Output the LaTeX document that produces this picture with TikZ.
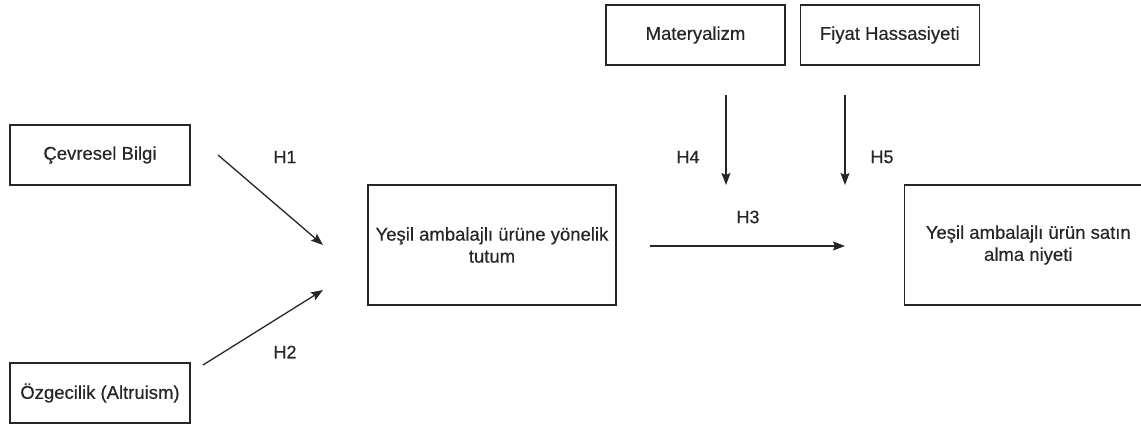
\documentclass[tikz,border=0pt]{standalone}
\usepackage{fontspec}
\setmainfont{Liberation Sans}[FakeBold=0.5, AutoFakeBold=0.5]
\usetikzlibrary{arrows.meta, positioning}
\tikzset{
    box/.style={rectangle, draw=black!85, line width=1.3pt, align=center, inner sep=0pt, font=\fontsize{18.5}{22}\selectfont\bfseries, text=black!85},
    arrow/.style={-{Stealth[length=12pt, width=9pt, inset=2pt]}, line width=1.3pt, black!85},
    hyp/.style={font=\fontsize{18}{22}\selectfont\bfseries, text=black!85}
}

\begin{document}
\begin{tikzpicture}[x=1pt, y=-1pt, node distance=14pt and 14pt]
            \useasboundingbox (0,0) rectangle (1141,425);
            \clip (0,0) rectangle (1141,425);

            % Constructs
            \node (cevre) [box, minimum width=180pt, minimum height=60pt] at (100,155) {Çevresel Bilgi};
            \node (ozgec) [box, minimum width=180pt, minimum height=60pt] at (100,393) {Özgecilik (Altruism)};
            \node (tutum) [box, minimum width=248pt, minimum height=120pt] at (492,245) {Yeşil ambalajlı ürüne yönelik\\tutum};
            \node (niyet) [box, minimum width=248pt, minimum height=120pt, right=287pt of tutum] {Yeşil ambalajlı ürün satın\\alma niyeti};

            % Moderators
            \node (mater) [box, minimum width=179pt, minimum height=60pt] at (695.5,35) {Materyalizm};
            \node (fiyat) [box, minimum width=179pt, minimum height=60pt, right=of mater] {Fiyat Hassasiyeti};

            % Arrow ends
            \coordinate (h1a) at (218,155);
            \coordinate (h1b) at (323,245);
            \coordinate (h2a) at (203,365);
            \coordinate (h2b) at (323,290);
            \coordinate (h3a) at (650,246);
            \coordinate (h3b) at (845,246);
            \coordinate (h4a) at (726,95);
            \coordinate (h4b) at (726,185);
            \coordinate (h5a) at (845,95);
            \coordinate (h5b) at (845,185);

            % Arrows
            \draw [arrow] (h1a) -- (h1b);
            \draw [arrow] (h2a) -- (h2b);
            \draw [arrow] (h3a) -- (h3b);
            \draw [arrow] (h4a) -- (h4b);
            \draw [arrow] (h5a) -- (h5b);

            % Hypotheses
            \node (lh1) [hyp] at (285,157) {H1};
            \node (lh2) [hyp] at (285,352) {H2};
            \node (lh3) [hyp] at (748,217) {H3};
            \node (lh4) [hyp] at (688,157) {H4};
            \node (lh5) [hyp] at (882,157) {H5};

\end{tikzpicture}
\end{document}
